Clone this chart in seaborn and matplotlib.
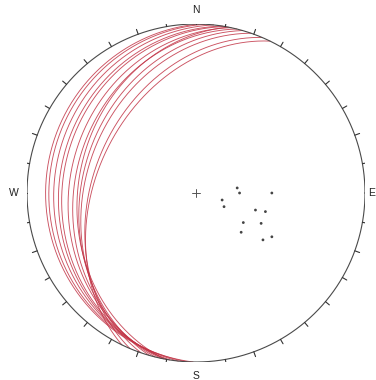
import numpy as np
import pandas as pd
import matplotlib
matplotlib.use("Agg")
import matplotlib.pyplot as plt
import seaborn as sns

# Planes (dip direction / dip, degrees) drawn as great circles
plane_dipdir = [271, 273, 276, 279, 280, 282, 284, 281, 286, 289, 293, 296]
plane_dip = [12, 14, 17, 20, 22, 26, 29, 31, 33, 35, 39, 41]

# Poles (trend / plunge, degrees) drawn as points
pole_trend = [83, 90, 90, 105, 116, 106, 105, 122, 115, 131, 125, 120]
pole_plunge = [70, 69, 53, 77, 75, 60, 55, 63, 55, 61, 50, 47]

# Compass labels
compass_labels = ["N", "E", "S", "W"]

sns.set_theme(style="white")
plt.rcParams["font.family"] = ["Liberation Sans", "DejaVu Sans"]


def project(trend, plunge):
    """Lower-hemisphere equal-area (Schmidt) projection, primitive radius 1."""
    t = np.radians(trend)
    p = np.radians(plunge)
    r = np.sqrt(2.0) * np.sin((np.pi / 2 - p) / 2.0)
    return r * np.sin(t), r * np.cos(t)


def great_circle(dipdir, dip, n=361):
    """Lines lying in the plane, from one strike end to the other."""
    strike = np.radians(dipdir - 90)
    dd = np.radians(dipdir)
    d = np.radians(dip)
    s = np.array([np.sin(strike), np.cos(strike), 0.0])
    dv = np.array([np.sin(dd) * np.cos(d), np.cos(dd) * np.cos(d), -np.sin(d)])
    ang = np.linspace(0, np.pi, n)
    v = np.outer(np.cos(ang), s) + np.outer(np.sin(ang), dv)
    v[v[:, 2] > 0] *= -1
    plunge = np.degrees(np.arcsin(np.clip(-v[:, 2], -1, 1)))
    trend = np.degrees(np.arctan2(v[:, 0], v[:, 1]))
    return project(trend, plunge)


rows = []
for i, (ddir, dp) in enumerate(zip(plane_dipdir, plane_dip)):
    x, y = great_circle(ddir, dp)
    rows.append(pd.DataFrame({"x": x, "y": y, "plane": i, "step": np.arange(len(x))}))
gc = pd.concat(rows, ignore_index=True)

px, py = project(np.array(pole_trend, float), np.array(pole_plunge, float))
poles = pd.DataFrame({"x": px, "y": py})

fig = plt.figure(figsize=(3.76, 3.80), dpi=100)
ax = fig.add_axes([27 / 376, 18 / 380, 338 / 376, 338 / 380])
ax.set_xlim(-1, 1)
ax.set_ylim(-1, 1)
ax.set_aspect("equal")
ax.axis("off")

# Primitive circle
th = np.linspace(0, 2 * np.pi, 720)
ax.plot(np.cos(th), np.sin(th), color="#4a4a4a", lw=0.8, zorder=3)

# 10-degree ticks outside the primitive
for az in range(0, 360, 10):
    a = np.radians(az)
    r1 = 1.04 if az in (0, 180, 270) else (1.025 if az == 90 else 1.03)
    ax.plot([np.sin(a), r1 * np.sin(a)], [np.cos(a), r1 * np.cos(a)],
            color="#333333", lw=0.8, zorder=3)

# Great circles
sns.lineplot(data=gc, x="x", y="y", units="plane", estimator=None, sort=False,
             color="#c23446", lw=0.65, alpha=0.85, ax=ax, legend=False)

# Poles
sns.scatterplot(data=poles, x="x", y="y", s=4, color="#444444",
                edgecolor="none", ax=ax, legend=False, zorder=4)

# Centre cross
ax.plot([-0.022, 0.022], [0, 0], color="#555555", lw=0.7)
ax.plot([0, 0], [-0.022, 0.022], color="#555555", lw=0.7)

# Compass labels
label_pos = {"N": (0.0, 1.08, "center"), "S": (0.0, -1.08, "center"),
             "W": (-1.075, 0.0, "center"), "E": (1.062, 0.0, "right")}
for lab in compass_labels:
    x, y, ha = label_pos[lab]
    ax.text(x, y, lab, ha=ha, va="center", fontsize=7.5, color="#222222")

ax.set_xlabel("")
ax.set_ylabel("")
fig.savefig("out.png", dpi=100, facecolor="white")
